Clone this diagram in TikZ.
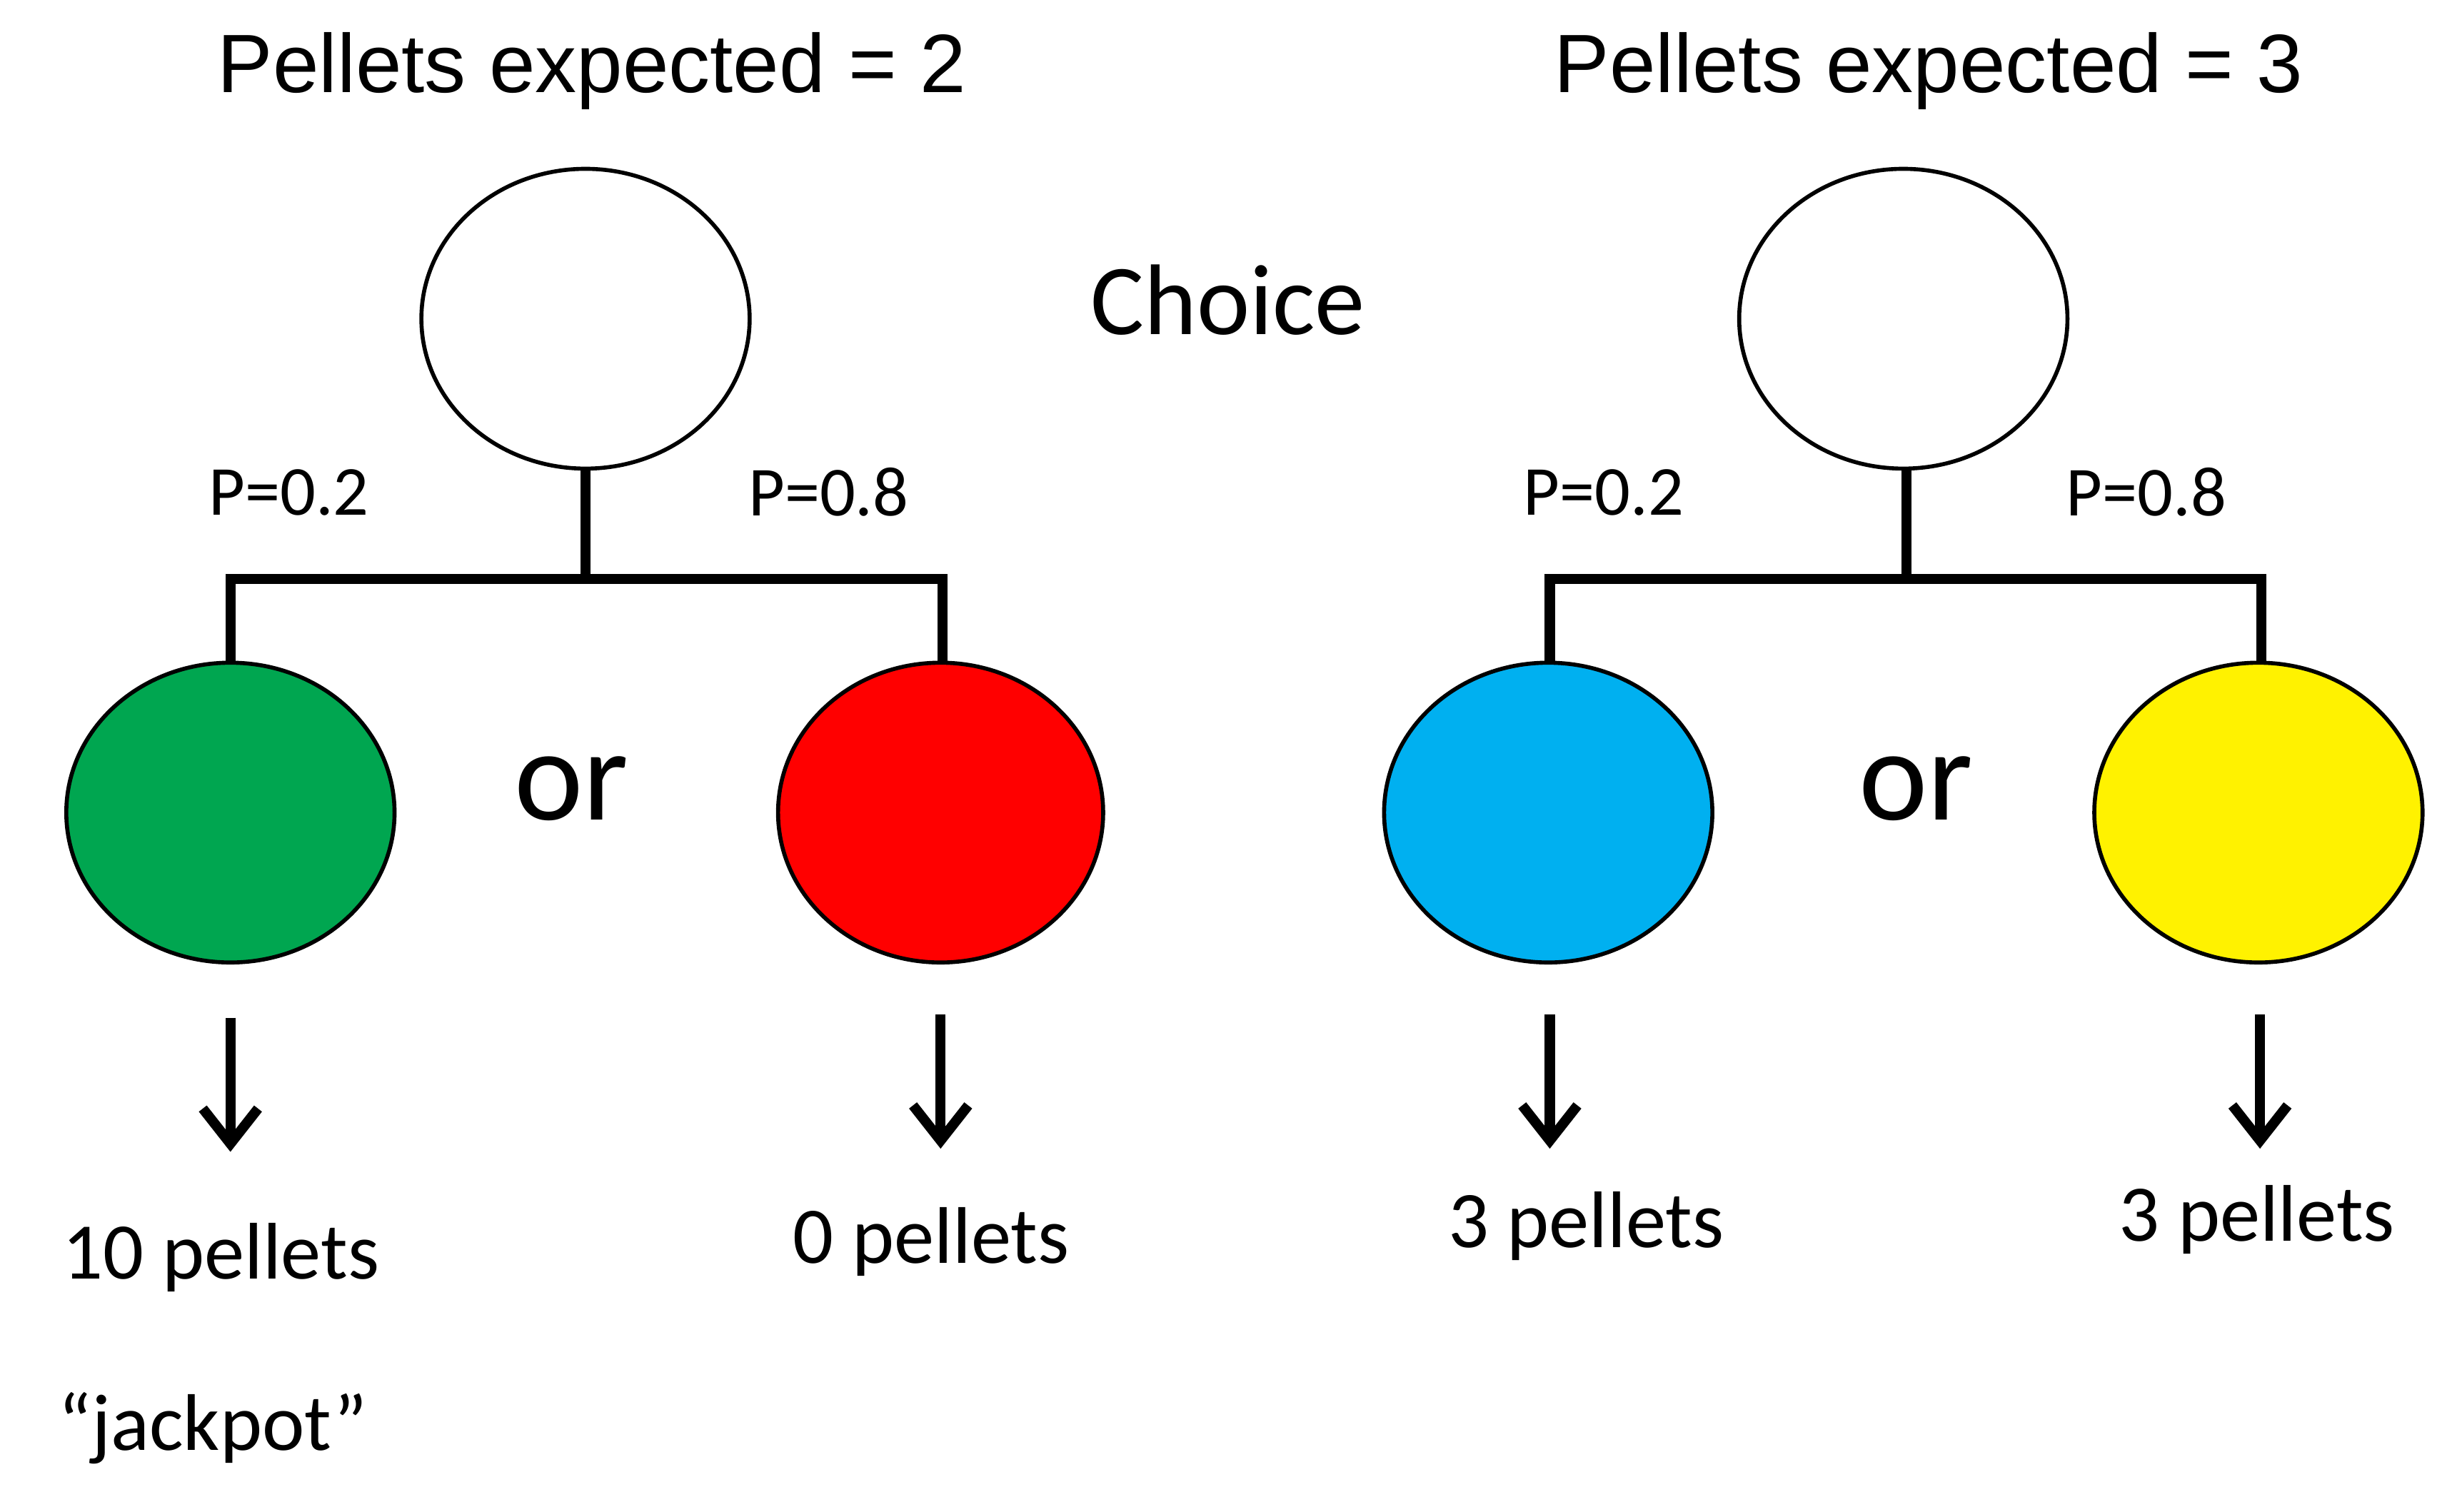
\documentclass[tikz,border=0pt]{standalone}
\usepackage{fontspec}
\setmainfont{Carlito}
\newfontfamily\arialf{Liberation Sans}
\begin{document}
\begin{tikzpicture}[x=0.0221cm,y=-0.0221cm,
  circ/.style={draw=black,line width=1.6pt},
  ln/.style={line width=4pt},
  arr/.style={line width=4pt,-{Straight Barb[length=14pt,width=22pt]}},
  lbl/.style={font=\fontsize{32}{36}\selectfont},
  pl/.style={font=\fontsize{28}{32}\selectfont},
  ttl/.style={font=\arialf\fontsize{33}{38}\selectfont},
  orl/.style={font=\fontsize{52}{60}\selectfont}]
\useasboundingbox (0,0) rectangle (1560,958);
\usetikzlibrary{arrows.meta}
\node[ttl] (t1) at (375,45) {Pellets expected = 2};
\node[ttl] (t2) at (1222,45) {Pellets expected = 3};
\node[font=\fontsize{40}{46}\selectfont] (ch) at (778,190) {Choice};
\path[circ] (371,202) ellipse [x radius=104,y radius=95];
\path[circ] (1206,202) ellipse [x radius=104,y radius=95];
\coordinate (a1) at (371,297); \coordinate (a2) at (1208,297);
\coordinate (h1) at (371,367); \coordinate (h2) at (1208,367);
\draw[ln] (a1) -- (h1);
\draw[ln] (146,420) -- (146,367) -- (597,367) -- (597,420);
\draw[ln] (a2) -- (h2);
\draw[ln] (982,420) -- (982,367) -- (1433,367) -- (1433,420);
\path[circ,fill={rgb,255:red,0;green,166;blue,80}] (146,515) ellipse [x radius=104,y radius=95];
\path[circ,fill=red] (596,515) ellipse [x radius=103,y radius=95];
\path[circ,fill={rgb,255:red,0;green,176;blue,240}] (981,515) ellipse [x radius=104,y radius=95];
\path[circ,fill=yellow] (1431,515) ellipse [x radius=104,y radius=95];
\node[orl] (o1) at (362,500) {or};
\node[orl] (o2) at (1214,500) {or};
\node[pl] at (183,312) {P=0.2};
\node[pl] at (525,312) {P=0.8};
\node[pl] at (1016,312) {P=0.2};
\node[pl] at (1360,312) {P=0.8};
\draw[arr] (146,645) -- (146,730);
\draw[arr] (596,643) -- (596,728);
\draw[arr] (982,643) -- (982,728);
\draw[arr] (1432,643) -- (1432,728);
\node[lbl] at (140,797) {10 pellets};
\node[lbl] at (590,787) {0 pellets};
\node[lbl] at (1005,777) {3 pellets};
\node[lbl] at (1430,773) {3 pellets};
\node[lbl] at (135,905) {“jackpot”};
\end{tikzpicture}
\end{document}
